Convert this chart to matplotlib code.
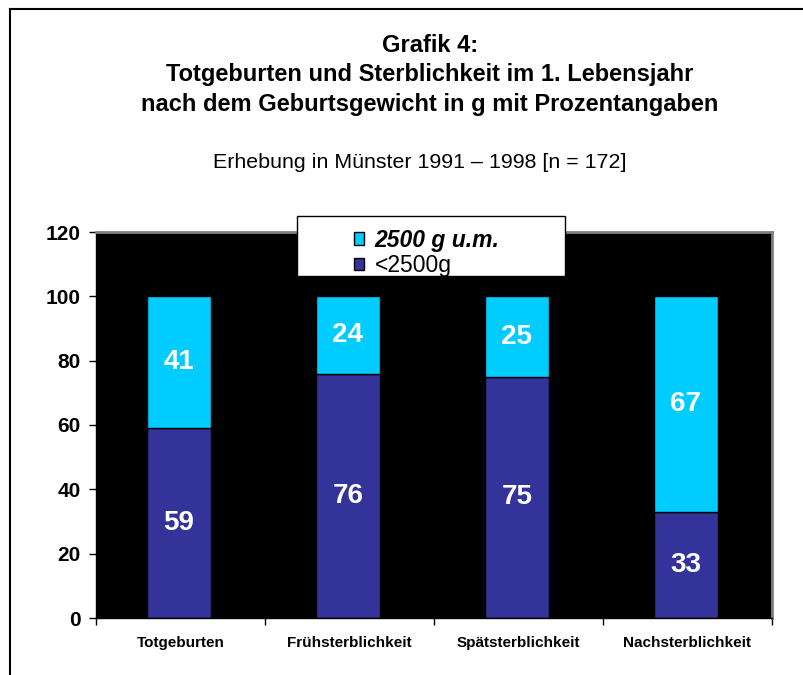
import matplotlib
matplotlib.use("Agg")
import matplotlib.pyplot as plt
from matplotlib.patches import Rectangle
from matplotlib.lines import Line2D
import numpy as np

plt.rcParams['font.family'] = ['Liberation Sans', 'DejaVu Sans']

# data
categories = ['Totgeburten', 'Frühsterblichkeit', 'Spätsterblichkeit', 'Nachsterblichkeit']
unter_2500 = [59, 76, 75, 33]
ab_2500 = [41, 24, 25, 67]
yticks = [0, 20, 40, 60, 80, 100, 120]

col_cyan = '#00ccff'
col_navy = '#333399'

fig = plt.figure(figsize=(8.04, 6.75), dpi=100)
ax = fig.add_axes([96/804, 57/675, 676/804, 386/675])
ax.set_facecolor('black')

x = np.arange(len(categories))
w = 0.38
b1 = ax.bar(x - 0.01, unter_2500, w, color=col_navy, edgecolor='black', linewidth=1.0, label='<2500g')
b2 = ax.bar(x - 0.01, ab_2500, w, bottom=unter_2500, color=col_cyan, edgecolor='black', linewidth=1.0,
            label='2500 g u.m.')

for i in range(len(categories)):
    ax.text(x[i] - 0.01, unter_2500[i] / 2, str(unter_2500[i]), color='white', fontsize=20,
            fontweight='bold', ha='center', va='center')
    ax.text(x[i] - 0.01, unter_2500[i] + ab_2500[i] / 2, str(ab_2500[i]), color='white', fontsize=20,
            fontweight='bold', ha='center', va='center')

ax.set_xlim(-0.5, len(categories) - 0.5)
ax.set_ylim(0, 120)
ax.set_yticks(yticks)
ax.set_yticklabels([str(v) for v in yticks], fontsize=15, fontweight='bold')
ax.tick_params(axis='y', direction='out', length=5, width=1, pad=6)

ax.set_xticks(x)
ax.set_xticklabels(categories, fontsize=11, fontweight='bold')
ax.tick_params(axis='x', length=0, pad=13)
ax.set_xticks(np.arange(-0.5, len(categories)), minor=True)
ax.tick_params(axis='x', which='minor', direction='out', length=5, width=1)

for s in ['top', 'right']:
    ax.spines[s].set_color('#808080')
    ax.spines[s].set_linewidth(2)
for s in ['left', 'bottom']:
    ax.spines[s].set_color('black')
    ax.spines[s].set_linewidth(1)

# legend: frame drawn separately so the entries can sit indented
ax.add_patch(Rectangle((0.297, 0.886), 0.397, 0.155, transform=ax.transAxes,
                       facecolor='white', edgecolor='black', linewidth=1, clip_on=False, zorder=5))
leg = ax.legend([b2, b1], ['2500 g u.m.', '<2500g'], loc='upper left',
                bbox_to_anchor=(0.358, 1.05), frameon=False, fontsize=16.5,
                handlelength=0.45, handleheight=0.45, handletextpad=0.45, labelspacing=0.1,
                borderpad=0.2)
leg.set_zorder(6)
for h in leg.legend_handles:
    h.set_edgecolor('black')
    h.set_linewidth(1)
leg.get_texts()[0].set_fontweight('bold')
leg.get_texts()[0].set_fontstyle('italic')

# titles
tx = 430 / 804
fig.text(tx, 1 - 45/675, 'Grafik 4:', ha='center', va='center', fontsize=17, fontweight='bold')
fig.text(tx, 1 - 75/675, 'Totgeburten und Sterblichkeit im 1. Lebensjahr', ha='center', va='center',
         fontsize=17, fontweight='bold')
fig.text(tx, 1 - 104/675, 'nach dem Geburtsgewicht in g mit Prozentangaben', ha='center', va='center',
         fontsize=17, fontweight='bold')
fig.text(420 / 804, 1 - 163/675, 'Erhebung in Münster 1991 – 1998 [n = 172]', ha='center', va='center',
         fontsize=15.4)

# outer frame (left and top edge)
fig.add_artist(Line2D([10/804, 10/804], [0, 1 - 9/675], color='black', linewidth=1.5))
fig.add_artist(Line2D([10/804, 1], [1 - 9/675, 1 - 9/675], color='black', linewidth=1.5))

fig.savefig('out.png', dpi=100)
